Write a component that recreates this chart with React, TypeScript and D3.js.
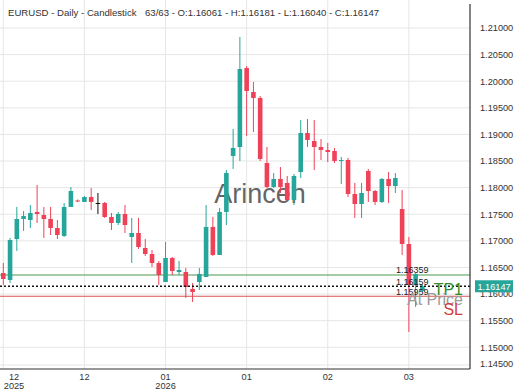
import React from "react";
import * as d3 from "d3";

const opens = [1.16396,1.16265,1.17035,1.17411,1.17392,1.17543,1.17486,1.17411,1.17242,1.17092,1.17637,1.17759,1.17731,1.17824,1.17712,1.17712,1.17449,1.17336,1.17505,1.17073,1.17148,1.16866,1.16753,1.16584,1.16227,1.16678,1.16415,1.16415,1.16096,1.16227,1.16321,1.17261,1.16735,1.17543,1.18595,1.18764,1.20248,1.19797,1.19685,1.18463,1.18012,1.18163,1.18088,1.17768,1.18294,1.19027,1.18877,1.18764,1.18708,1.18689,1.18501,1.18520,1.17881,1.17693,1.18313,1.17937,1.17731,1.18163,1.18031,1.17599,1.16941,1.16171,1.16061];
const highs = [1.16584,1.17054,1.17637,1.17561,1.17674,1.18050,1.17637,1.17637,1.17392,1.17712,1.18012,1.17778,1.17843,1.17994,1.17900,1.17731,1.17524,1.17543,1.17674,1.17430,1.17430,1.17035,1.16829,1.16622,1.16979,1.16697,1.16622,1.16490,1.16209,1.16490,1.17674,1.17449,1.17618,1.18332,1.19102,1.20831,1.20286,1.19985,1.19722,1.18764,1.18275,1.18388,1.18219,1.18257,1.19271,1.19290,1.19271,1.18914,1.18839,1.18745,1.18576,1.18557,1.18088,1.18088,1.18351,1.17956,1.18181,1.18294,1.18275,1.17956,1.17073,1.16396,1.16181];
const lows = [1.16171,1.16209,1.16810,1.17186,1.17242,1.17336,1.17054,1.17110,1.17035,1.17073,1.17637,1.17731,1.17731,1.17580,1.17505,1.17430,1.17204,1.17298,1.17148,1.16584,1.16847,1.16716,1.16509,1.16171,1.16227,1.16359,1.16359,1.15927,1.15852,1.16077,1.16321,1.16716,1.16735,1.17298,1.18351,1.18501,1.18971,1.19046,1.18501,1.17994,1.17994,1.17900,1.17749,1.17674,1.18181,1.18764,1.18332,1.18520,1.18482,1.18463,1.18069,1.17824,1.17430,1.17430,1.17731,1.17674,1.17712,1.17712,1.17900,1.16735,1.15288,1.15758,1.16040];
const closes = [1.16284,1.17017,1.17411,1.17467,1.17524,1.17505,1.17411,1.17242,1.17110,1.17637,1.17937,1.17740,1.17824,1.17731,1.17712,1.17449,1.17336,1.17505,1.17298,1.17148,1.16885,1.16753,1.16584,1.16359,1.16678,1.16434,1.16453,1.16133,1.16039,1.16378,1.17261,1.16735,1.17543,1.18275,1.18745,1.20230,1.19816,1.19685,1.18539,1.18012,1.18163,1.18012,1.17768,1.18219,1.19027,1.18896,1.18764,1.18708,1.18670,1.18501,1.18520,1.17881,1.17693,1.17900,1.17937,1.17731,1.18163,1.18031,1.18181,1.16941,1.16171,1.16378,1.16147];

const xTickIndex = [0, 12, 24, 36, 48, 60];
const xTickTop = ["12", "12", "01", "01", "02", "03"];
const xTickBottom = ["2025", "", "2026", "", "", ""];
const yTicks = [1.21, 1.205, 1.2, 1.195, 1.19, 1.185, 1.18, 1.175, 1.17, 1.165, 1.16, 1.155, 1.15, 1.145];

const tpLevel = 1.16359;
const atPriceLevel = 1.16159;
const slLevel = 1.15959;
const lastPrice = 1.16147;

const titleLeft = "EURUSD - Daily - Candlestick";
const titleRight = "63/63 - O:1.16061 - H:1.16181 - L:1.16040 - C:1.16147";

const W = 520, H = 390;
const plotRight = 470, plotBottom = 369, plotTop = 4;
const UP = "#26a69a", DOWN = "#ef4259";
const FONT = "Arial, 'Liberation Sans', sans-serif";

export default function App() {
  const y = d3.scaleLinear().domain([1.15, 1.21]).range([347.3, 28]);
  const x = d3.scaleLinear().domain([0, 62]).range([3.3, 422.4]);
  const fmt = d3.format(".5f");
  const bw = 4.6;

  return (
    <svg width={W} height={H} style={{ position: "absolute", left: 0, top: 0, background: "#fff" }} fontFamily={FONT}>
      <rect x={0} y={0} width={W} height={H} fill="#fff" />
      {/* horizontal grid */}
      {yTicks.map((t) => {
        const yy = Math.min(y(t), plotBottom - 4);
        return <line key={"hg" + t} x1={0} x2={plotRight} y1={yy} y2={yy} stroke="#e6e6e6" strokeWidth={1} />;
      })}
      {/* vertical grid */}
      {xTickIndex.map((i) => (
        <line key={"vg" + i} x1={x(i)} x2={x(i)} y1={0} y2={plotBottom} stroke="#e6e6e6" strokeWidth={1} />
      ))}
      {/* title */}
      <text x={8} y={16} fontSize={9.6} fill="#333">{titleLeft}</text>
      <text x={145} y={16} fontSize={9.6} fill="#333">{titleRight}</text>
      {/* watermark */}
      <text x={260} y={203} fontSize={27} fill="#555" textAnchor="middle" opacity={0.9}>Arincen</text>
      {/* level lines */}
      <line x1={0} x2={plotRight} y1={y(tpLevel)} y2={y(tpLevel)} stroke="#4e9a4e" strokeWidth={1.2} />
      <line x1={0} x2={plotRight} y1={y(slLevel)} y2={y(slLevel)} stroke="#d9534f" strokeWidth={1.2} />
      {/* candles */}
      {opens.map((o, i) => {
        const c = closes[i];
        const col = c > o ? UP : c < o ? DOWN : "#111";
        const top = y(Math.max(o, c));
        const bot = y(Math.min(o, c));
        return (
          <g key={"c" + i}>
            <line x1={x(i)} x2={x(i)} y1={y(highs[i])} y2={y(lows[i])} stroke={col} strokeWidth={1} />
            <rect x={x(i) - bw / 2} y={top} width={bw} height={Math.max(1, bot - top)} fill={col} />
          </g>
        );
      })}
      {/* last price dotted line */}
      <line x1={0} x2={plotRight} y1={y(lastPrice)} y2={y(lastPrice)} stroke="#111" strokeWidth={1.5} strokeDasharray="2,2" />
      {/* level labels */}
      <text x={396} y={y(tpLevel) - 2} fontSize={9} fill="#222">{fmt(tpLevel)}</text>
      <text x={396} y={y(atPriceLevel) - 1} fontSize={9} fill="#222">{fmt(atPriceLevel)}</text>
      <text x={396} y={y(slLevel) - 1} fontSize={9} fill="#222">{fmt(slLevel)}</text>
      <text x={463} y={y(tpLevel) + 20} fontSize={16} fill="#2e8b2e" textAnchor="end">TP1</text>
      <text x={463} y={y(tpLevel) + 30} fontSize={16} fill="#9a9a9a" textAnchor="end">At Price</text>
      <text x={463} y={y(tpLevel) + 40} fontSize={16} fill="#d43a3a" textAnchor="end">SL</text>
      {/* axes */}
      <line x1={plotRight} x2={plotRight} y1={plotTop} y2={plotBottom} stroke="#333" strokeWidth={1.2} />
      <line x1={0} x2={plotRight} y1={plotBottom} y2={plotBottom} stroke="#333" strokeWidth={1.2} />
      {/* y tick labels */}
      {yTicks.map((t) => {
        const yy = Math.min(y(t), plotBottom - 5);
        return (
          <text key={"yl" + t} x={480} y={yy + 3.3} fontSize={9.2} fill="#333">{fmt(t)}</text>
        );
      })}
      {/* last price tag */}
      <rect x={475} y={y(lastPrice) - 6} width={38} height={12} fill={UP} />
      <text x={494} y={y(lastPrice) + 3.3} fontSize={9.2} fill="#fff" textAnchor="middle">{fmt(lastPrice)}</text>
      {/* x tick labels */}
      {xTickIndex.map((i, k) => {
        const xx = Math.max(x(i), 14);
        return (
          <g key={"xl" + i}>
            <text x={xx} y={380} fontSize={9.2} fill="#333" textAnchor="middle">{xTickTop[k]}</text>
            {xTickBottom[k] && <text x={xx} y={389} fontSize={9.2} fill="#333" textAnchor="middle">{xTickBottom[k]}</text>}
          </g>
        );
      })}
    </svg>
  );
}
